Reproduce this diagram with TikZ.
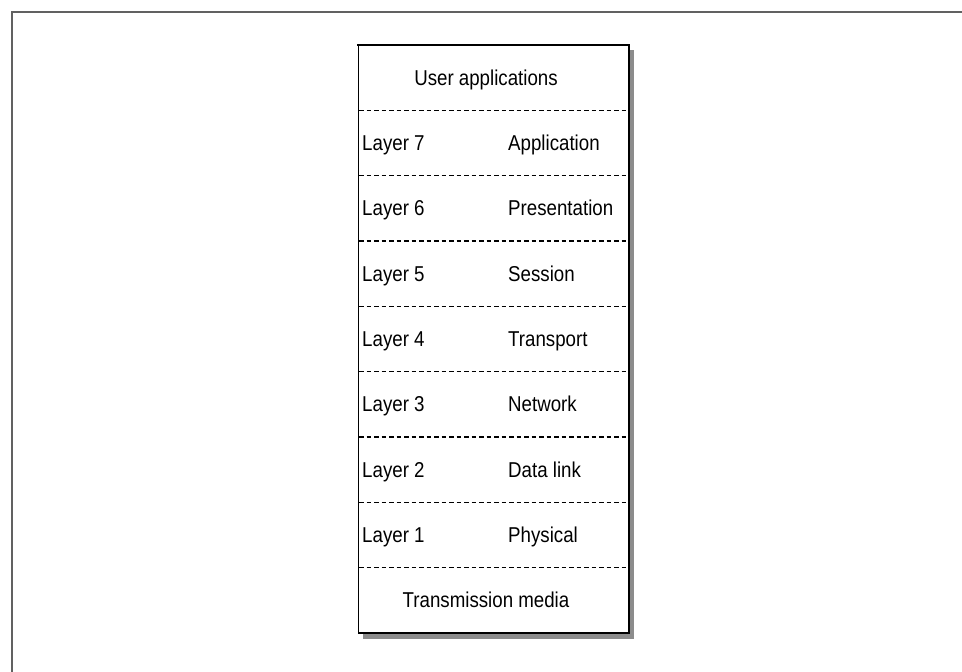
\documentclass[tikz,border=0pt]{standalone}
\usepackage{fontspec}
\setmainfont[FakeStretch=0.87]{Liberation Sans}
\begin{document}
\begin{tikzpicture}[x=1pt,y=-1pt,
  frameline/.style={draw=black!62,line width=2pt},
  sepline/.style={draw=black,line width=1.1pt,dash pattern=on 4.5pt off 3pt},
  boxedge/.style={draw=black,line width=1.6pt},
  shadowfill/.style={fill=black!45},
  txt/.style={inner sep=0pt,font=\fontsize{21.5}{26}\selectfont},
  lyr/.style={txt,anchor=base west},
  proto/.style={txt,anchor=base west},
  wide/.style={txt,anchor=base}]
\useasboundingbox (0,0) rectangle (962,672);
\begin{scope}
\clip (0,0) rectangle (962,672);
% outer frame, running past the right and bottom borders
\draw[frameline] (11.5,700) -- (11.5,11.5) -- (990,11.5);
\end{scope}
% box shadow
\fill[shadowfill] (363,50) rectangle (634,639);
\fill[white] (358,45) rectangle (629,633);
% box outline
\draw[draw=black,line width=0.8pt] (358,45) -- (358,633);
\draw[boxedge] (357,45) -- (629,45);
\draw[draw=black,line width=2pt] (629,44.2) -- (629,633) -- (357.6,633);
% row separators
\foreach \yy in {110.3,175.7,241,306.3,371.7,437,502.3,567.7}
  \draw[sepline] (359,\yy) -- (628,\yy);
% texts (baselines sit 7.5 below each row centre)
\node[wide] (user) at (486,85.2) {User applications};
\node[lyr] (l7) at (362,150.5) {Layer 7};
\node[proto] (p7) at (508,150.5) {Application};
\node[lyr] (l6) at (362,215.8) {Layer 6};
\node[proto] (p6) at (508,215.8) {Presentation};
\node[lyr] (l5) at (362,281.2) {Layer 5};
\node[proto] (p5) at (508,281.2) {Session};
\node[lyr] (l4) at (362,346.5) {Layer 4};
\node[proto] (p4) at (508,346.5) {Transport};
\node[lyr] (l3) at (362,411.8) {Layer 3};
\node[proto] (p3) at (508,411.8) {Network};
\node[lyr] (l2) at (362,477.2) {Layer 2};
\node[proto] (p2) at (508,477.2) {Data link};
\node[lyr] (l1) at (362,542.5) {Layer 1};
\node[proto] (p1) at (508,542.5) {Physical};
\node[wide] (media) at (486,607.8) {Transmission media};
\end{tikzpicture}
\end{document}
